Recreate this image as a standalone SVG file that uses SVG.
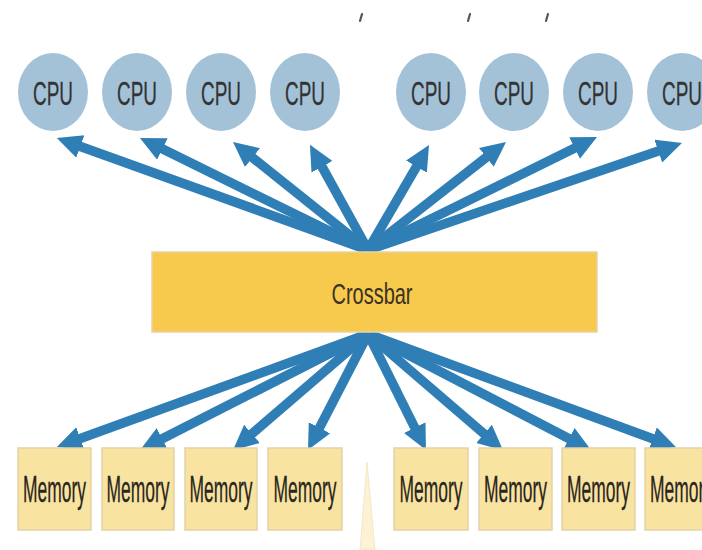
<svg xmlns="http://www.w3.org/2000/svg" width="702" height="550" viewBox="0 0 702 550">
  <defs>
    <style>
      .cpu ellipse { fill: #A3C2D8; }
      .cpu text { font-family: "Liberation Sans", Arial, sans-serif; font-size: 34px; fill: #333333; text-anchor: middle; stroke: #333333; stroke-width: 0.3; }
      .mem rect { fill: #F9E3A0; stroke: #E3D2A6; stroke-width: 1.5; }
      .mem text { font-family: "Liberation Sans", Arial, sans-serif; font-size: 36px; fill: #2A261E; text-anchor: middle; stroke: #2A261E; stroke-width: 0.3; }
      .bar rect { fill: #F7C94C; stroke: #E6D3A6; stroke-width: 1.5; }
      .bar text { font-family: "Liberation Sans", Arial, sans-serif; font-size: 30px; fill: #3A3226; text-anchor: middle; }
      .link { stroke: #2F7FB6; stroke-width: 9.5; fill: none; marker-end: url(#head); }
      .tick { stroke: #555; stroke-width: 2.2; stroke-linecap: round; }
    </style>
    <marker id="head" markerUnits="userSpaceOnUse" markerWidth="28" markerHeight="26" refX="11" refY="12" orient="auto">
      <path d="M0,0 L25,12 L0,24 Z" fill="#2F7FB6"/>
    </marker>
  </defs>

  <rect width="702" height="550" fill="#FFFFFF"/>

  <!-- small marks along the top edge -->
  <g id="marks">
    <line class="tick" x1="362" y1="14" x2="360" y2="21"/>
    <line class="tick" x1="470" y1="14" x2="468" y2="21"/>
    <line class="tick" x1="548" y1="14" x2="546" y2="21"/>
  </g>

  <!-- pale wedge below the crossbar -->
  <polygon points="367,462 360,550 375,550" fill="#FDF3D4" stroke="#EFE3C4" stroke-width="0.8"/>

  <!-- crossbar to CPU and memory links -->
  <g id="connectors">
    <line class="link" x1="368" y1="250" x2="70" y2="142.7"/>
    <line class="link" x1="368" y1="250" x2="152.5" y2="144.1"/>
    <line class="link" x1="368" y1="250" x2="243.9" y2="150.7"/>
    <line class="link" x1="368" y1="250" x2="316.7" y2="157.1"/>
    <line class="link" x1="368" y1="250" x2="422.0" y2="157.1"/>
    <line class="link" x1="368" y1="250" x2="495.0" y2="150.6"/>
    <line class="link" x1="368" y1="250" x2="584.5" y2="143.2"/>
    <line class="link" x1="368" y1="250" x2="668.7" y2="147.5"/>

    <line class="link" x1="368" y1="334" x2="70" y2="442.3"/>
    <line class="link" x1="368" y1="334" x2="152.4" y2="443.8"/>
    <line class="link" x1="368" y1="334" x2="243.6" y2="441.0"/>
    <line class="link" x1="368" y1="334" x2="314.4" y2="437.6"/>
    <line class="link" x1="368" y1="334" x2="419.7" y2="437.5"/>
    <line class="link" x1="368" y1="334" x2="492.4" y2="441.0"/>
    <line class="link" x1="368" y1="334" x2="578.8" y2="443.7"/>
    <line class="link" x1="368" y1="334" x2="663.0" y2="442.5"/>
  </g>

  <g id="crossbar" class="bar">
    <rect x="152" y="252" width="445" height="80"/>
    <text x="372" y="304" textLength="81" lengthAdjust="spacingAndGlyphs">Crossbar</text>
  </g>

  <g id="cpu1" class="cpu"><ellipse cx="53" cy="92" rx="35" ry="39"/><text x="53" y="105" textLength="40" lengthAdjust="spacingAndGlyphs">CPU</text></g>
  <g id="cpu2" class="cpu"><ellipse cx="137" cy="92" rx="35" ry="39"/><text x="137" y="105" textLength="40" lengthAdjust="spacingAndGlyphs">CPU</text></g>
  <g id="cpu3" class="cpu"><ellipse cx="221" cy="92" rx="35" ry="39"/><text x="221" y="105" textLength="40" lengthAdjust="spacingAndGlyphs">CPU</text></g>
  <g id="cpu4" class="cpu"><ellipse cx="305" cy="92" rx="35" ry="39"/><text x="305" y="105" textLength="40" lengthAdjust="spacingAndGlyphs">CPU</text></g>
  <g id="cpu5" class="cpu"><ellipse cx="431" cy="92" rx="35" ry="39"/><text x="431" y="105" textLength="40" lengthAdjust="spacingAndGlyphs">CPU</text></g>
  <g id="cpu6" class="cpu"><ellipse cx="514" cy="92" rx="35" ry="39"/><text x="514" y="105" textLength="40" lengthAdjust="spacingAndGlyphs">CPU</text></g>
  <g id="cpu7" class="cpu"><ellipse cx="598" cy="92" rx="35" ry="39"/><text x="598" y="105" textLength="40" lengthAdjust="spacingAndGlyphs">CPU</text></g>
  <g id="cpu8" class="cpu"><ellipse cx="682" cy="92" rx="35" ry="39"/><text x="682" y="105" textLength="40" lengthAdjust="spacingAndGlyphs">CPU</text></g>

  <g id="mem1" class="mem"><rect x="18" y="448" width="73" height="82"/><text x="54.5" y="502" textLength="63" lengthAdjust="spacingAndGlyphs">Memory</text></g>
  <g id="mem2" class="mem"><rect x="102" y="448" width="72" height="82"/><text x="138" y="502" textLength="63" lengthAdjust="spacingAndGlyphs">Memory</text></g>
  <g id="mem3" class="mem"><rect x="185" y="448" width="72" height="82"/><text x="221" y="502" textLength="63" lengthAdjust="spacingAndGlyphs">Memory</text></g>
  <g id="mem4" class="mem"><rect x="268" y="448" width="74" height="82"/><text x="305" y="502" textLength="63" lengthAdjust="spacingAndGlyphs">Memory</text></g>
  <g id="mem5" class="mem"><rect x="394" y="448" width="74" height="82"/><text x="431" y="502" textLength="63" lengthAdjust="spacingAndGlyphs">Memory</text></g>
  <g id="mem6" class="mem"><rect x="479" y="448" width="73" height="82"/><text x="515.5" y="502" textLength="63" lengthAdjust="spacingAndGlyphs">Memory</text></g>
  <g id="mem7" class="mem"><rect x="562" y="448" width="73" height="82"/><text x="598.5" y="502" textLength="63" lengthAdjust="spacingAndGlyphs">Memory</text></g>
  <g id="mem8" class="mem"><rect x="645" y="448" width="73" height="82"/><text x="681.5" y="502" textLength="63" lengthAdjust="spacingAndGlyphs">Memory</text></g>
</svg>
